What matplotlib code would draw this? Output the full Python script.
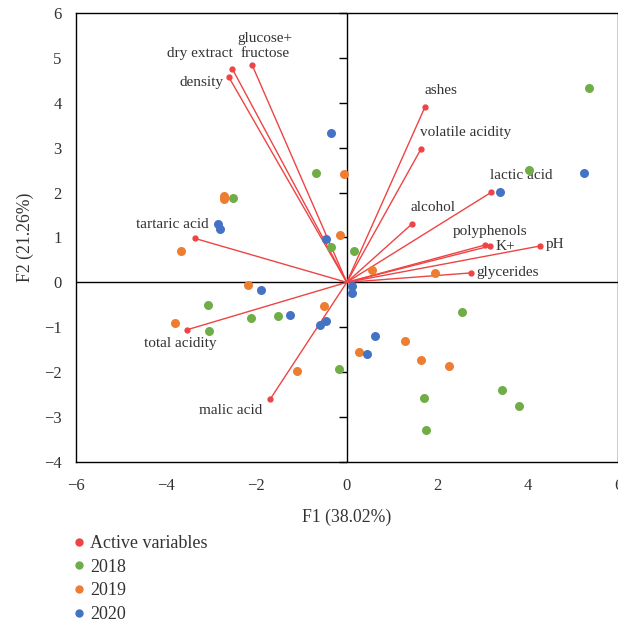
import matplotlib
matplotlib.use('Agg')
import matplotlib.pyplot as plt
from matplotlib.lines import Line2D
import numpy as np

plt.rcParams['font.family'] = ['Liberation Serif', 'DejaVu Serif']
plt.rcParams['font.size'] = 11
plt.rcParams['text.color'] = '#333333'

# active variables (loadings scaled to the score plot)
var_names = ['dry extract', 'density', 'glucose+\nfructose', 'tartaric acid',
             'ashes', 'volatile acidity', 'lactic acid', 'alcohol',
             'polyphenols', 'K+', 'pH', 'glycerides', 'total acidity', 'malic acid']
var_x = [-2.53, -2.61, -2.09, -3.36, 1.73, 1.64, 3.20, 1.44, 3.05, 3.17, 4.27, 2.74, -3.54, -1.69]
var_y = [4.76, 4.58, 4.84, 0.98, 3.91, 2.97, 2.01, 1.30, 0.83, 0.81, 0.81, 0.21, -1.06, -2.60]

# observations per year
x_2018 = [-0.67, -2.52, -0.34, 4.04, 5.35, 0.17, 2.55, -0.18, 1.71, 3.43, 3.82, 1.76, -3.06, -3.04, -2.12, -1.51]
y_2018 = [2.44, 1.88, 0.79, 2.50, 4.33, 0.70, -0.66, -1.94, -2.59, -2.39, -2.75, -3.30, -0.51, -1.09, -0.79, -0.74]
x_2019 = [-2.72, -2.71, -0.05, -0.15, -3.66, -2.19, -3.79, -0.50, -1.09, 0.56, 1.96, 0.27, 1.28, 1.65, 2.27]
y_2019 = [1.93, 1.85, 2.42, 1.06, 0.71, -0.05, -0.90, -0.53, -1.98, 0.28, 0.21, -1.55, -1.30, -1.73, -1.86]
x_2020 = [-0.34, -2.84, -2.80, -0.45, 5.24, 3.38, -1.90, -1.25, -0.60, -0.47, 0.11, 0.11, 0.63, 0.45]
y_2020 = [3.34, 1.31, 1.20, 0.96, 2.44, 2.01, -0.16, -0.72, -0.96, -0.86, -0.08, -0.24, -1.20, -1.59]

yticks = [-4, -3, -2, -1, 0, 1, 2, 3, 4, 5, 6]
xticks = [-6, -4, -2, 0, 2, 4, 6]

RED = '#ee4444'
GREEN = '#70ad47'
ORANGE = '#ed7d31'
BLUE = '#4472c4'

# label offsets in points (dx, dy, ha)
lab_off = [(0, 11, 'right'), (-4, -4, 'right'), (9, 14, 'center'), (10, 10, 'right'),
           (0, 12, 'left'), (-1, 12, 'left'), (-1, 12, 'left'), (-1, 12, 'left'),
           (-23, 10, 'left'), (4, 0, 'left'), (4, 1, 'left'), (4, 0, 'left'),
           (-31, -10, 'left'), (-6, -8, 'right')]

fig = plt.figure(figsize=(6.18, 6.22), dpi=100)
ax = fig.add_axes([75.5 / 618, 1 - 461.7 / 622, 1 - 75.5 / 618, (461.7 - 13.3) / 622])

ax.axhline(0, color='black', lw=1, zorder=1)
ax.axvline(0, color='black', lw=1, zorder=1)
# tick marks sitting on the x=0 line
ax.plot(np.zeros(len(yticks)), yticks, marker=0, ls='none', ms=6, mew=1,
        color='black', zorder=1, clip_on=False)

for vx, vy in zip(var_x, var_y):
    ax.plot([0, vx], [0, vy], color=RED, lw=1, zorder=2)
ax.plot(var_x, var_y, 'o', color=RED, ms=3.5, zorder=3)

for name, vx, vy, (dx, dy, ha) in zip(var_names, var_x, var_y, lab_off):
    ax.annotate(name, (vx, vy), xytext=(dx, dy), textcoords='offset points',
                ha=ha, va='center', fontsize=11, color='#333333',
                multialignment='center', linespacing=1.15)

ax.scatter(x_2018, y_2018, s=42, color=GREEN, zorder=4, linewidths=0)
ax.scatter(x_2019, y_2019, s=42, color=ORANGE, zorder=4, linewidths=0)
ax.scatter(x_2020, y_2020, s=42, color=BLUE, zorder=4, linewidths=0)

ax.set_xlim(-6, 6)
ax.set_ylim(-4, 6)
ax.set_xticks(xticks)
ax.set_yticks(yticks)
ax.set_xticklabels([('\u2212' if t < 0 else '') + str(abs(t)) for t in xticks])
ax.set_yticklabels([('\u2212' if t < 0 else '') + str(abs(t)) for t in yticks])
ax.tick_params(length=0, labelsize=12, labelcolor='#333333')
ax.tick_params(axis='x', pad=12)
ax.tick_params(axis='y', pad=10)
for sp in ax.spines.values():
    sp.set_linewidth(1)
    sp.set_color('black')

fig.text(347 / 618, 1 - 517 / 622, 'F1 (38.02%)', ha='center', va='center', fontsize=12.7)
fig.text(25 / 618, 1 - 237 / 622, 'F2 (21.26%)', ha='center', va='center',
         rotation=90, fontsize=12.7)

handles = [Line2D([], [], marker='o', ls='none', color=c, ms=5)
           for c in [RED, GREEN, ORANGE, BLUE]]
fig.legend(handles, ['Active variables', '2018', '2019', '2020'],
           loc='upper left', bbox_to_anchor=(73.6 / 618, 1 - 535 / 622),
           frameon=False, fontsize=13, handlelength=0.6, handletextpad=0.31,
           borderpad=0, borderaxespad=0, labelspacing=0.37)

fig.savefig('out.png', dpi=100)
